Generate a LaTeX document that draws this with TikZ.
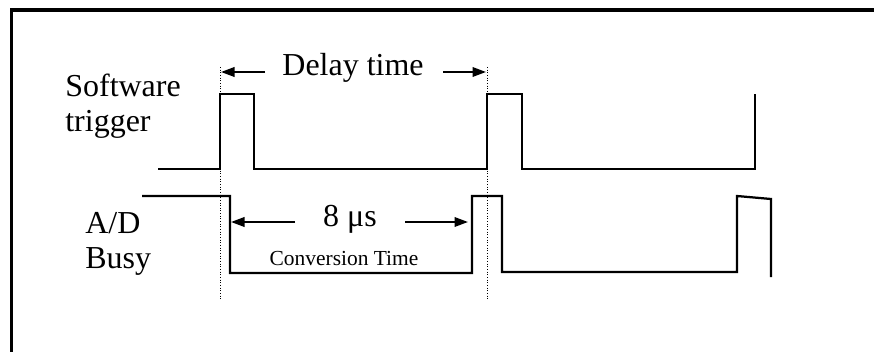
\documentclass[tikz,border=0pt]{standalone}
\usepackage{fontspec}
\setmainfont{Liberation Serif}
\usetikzlibrary{arrows.meta}
\tikzset{x = 0.02cm, y = -0.02cm,
         signal/.style = {line width = 0.045cm, line join = miter},
         marker/.style = {densely dotted, line width = 0.018cm},
         span/.style = {line width = 0.04cm,
                        -{Triangle[length = 0.27cm, width = 0.19cm]}},
         sigtext/.style = {font = \fontsize{18.2}{20}\selectfont,
                           anchor = base west, inner sep = 0pt},
         spantext/.style = {font = \fontsize{18.2}{20}\selectfont,
                            anchor = base, inner sep = 0pt},
         smalltext/.style = {font = \fontsize{12.2}{14}\selectfont,
                             anchor = base, inner sep = 0pt}}

\begin{document}
\begin{tikzpicture}
        \clip (0,0) rectangle (874,351);
        \draw[line width = 0.08cm] (11.5,10) rectangle (900,380);

        % signal names
        \node[sigtext] (sw)   at (65,97)  {Software};
        \node[sigtext] (trig) at (65,132) {trigger};
        \node[sigtext] (ad)   at (85,233) {A/D};
        \node[sigtext] (busy) at (85,268) {Busy};

        % marker lines
        \coordinate (m1top) at (220,67);  \coordinate (m1bot) at (220,300);
        \coordinate (m2top) at (487,67);  \coordinate (m2bot) at (487,300);
        \draw[marker] (m1top) -- (m1bot);
        \draw[marker] (m2top) -- (m2bot);

        % software trigger
        \draw[signal] (158,169) -- (220,169) -- (220,94) -- (254,94) -- (254,169)
                      -- (487,169) -- (487,94) -- (522,94) -- (522,169)
                      -- (755,169) -- (755,94);

        % A/D busy
        \draw[signal] (142,196) -- (230,196) -- (230,273) -- (472,273) -- (472,196)
                      -- (502,196) -- (502,272) -- (737,272) -- (737,196)
                      -- (771,199) -- (771,277);

        % delay time
        \node[spantext] (delay) at (353,76) {Delay time};
        \coordinate (dl) at (265,72);  \coordinate (dlend) at (221,72);
        \coordinate (dr) at (443,72);  \coordinate (drend) at (486,72);
        \draw[span] (dl) -- (dlend);
        \draw[span] (dr) -- (drend);

        % conversion time
        \node[spantext] (conv) at (350,226) {8 μs};
        \node[smalltext] (convname) at (344,265) {Conversion Time};
        \coordinate (cl) at (295,222);  \coordinate (clend) at (231,222);
        \coordinate (cr) at (405,222);  \coordinate (crend) at (468,222);
        \draw[span] (cl) -- (clend);
        \draw[span] (cr) -- (crend);
\end{tikzpicture}
\end{document}
